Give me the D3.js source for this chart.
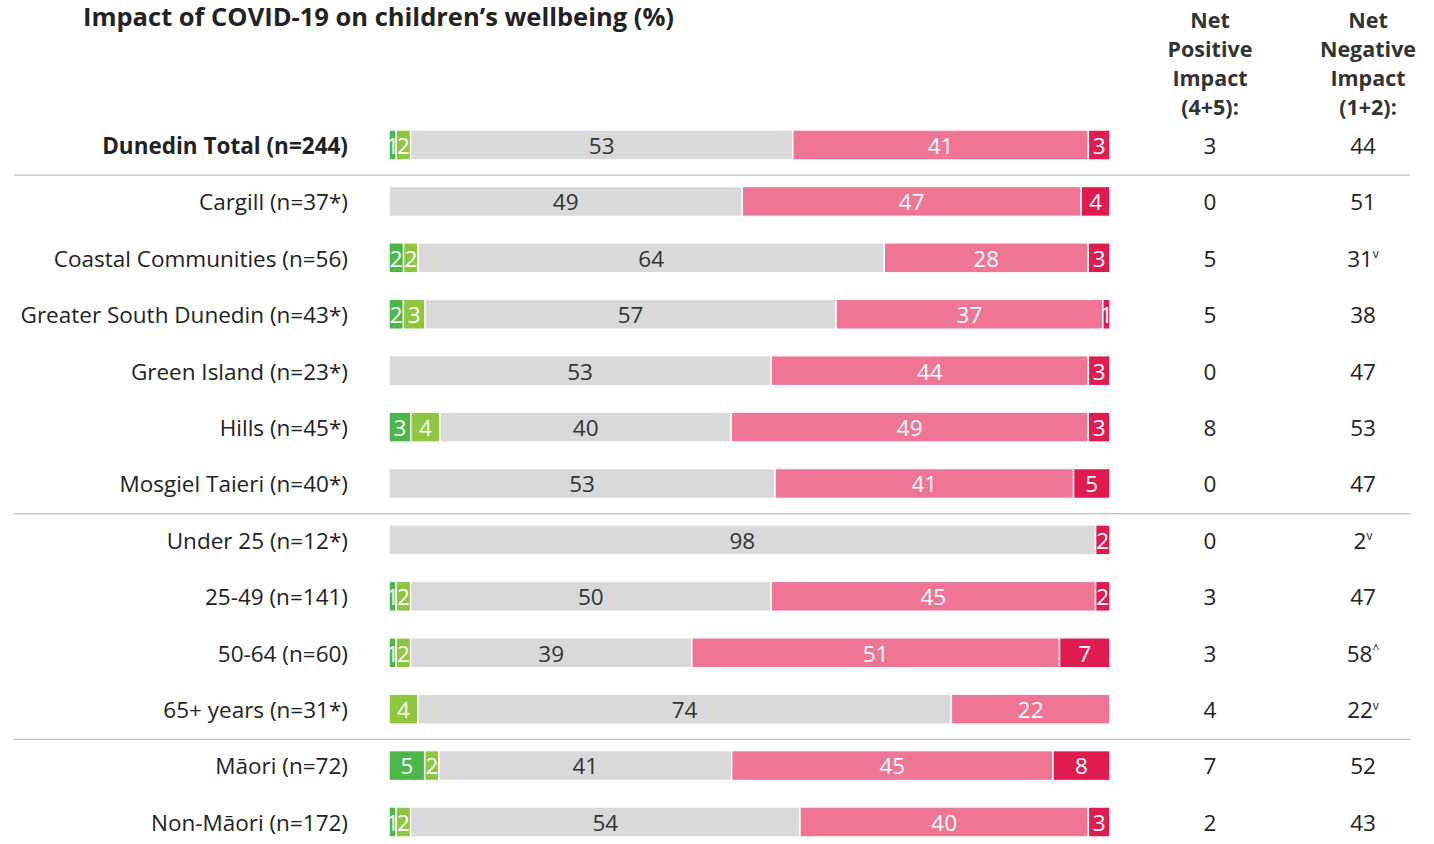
<!DOCTYPE html>
<html>
<head>
<meta charset="utf-8">
<script src="https://cdn.jsdelivr.net/npm/d3@7"></script>
<style>
  html, body { margin: 0; padding: 0; background: #fff; }
  svg { display: block; font-family: "Open Sans", "Lato", sans-serif; }
</style>
</head>
<body>
<svg id="chart" width="1434" height="844"></svg>
<script>
// Row labels, top to bottom
const categories = [
  "Dunedin Total (n=244)",
  "Cargill (n=37*)",
  "Coastal Communities (n=56)",
  "Greater South Dunedin (n=43*)",
  "Green Island (n=23*)",
  "Hills (n=45*)",
  "Mosgiel Taieri  (n=40*)",
  "Under 25 (n=12*)",
  "25-49 (n=141)",
  "50-64 (n=60)",
  "65+ years (n=31*)",
  "Māori (n=72)",
  "Non-Māori (n=172)"
];

// Response shares (%) for each scale point, 5 = very positive ... 1 = very negative
const veryPositive  = [1, 0, 2, 2, 0, 3, 0, 0, 1, 1, 0, 5, 1];
const positive      = [2, 0, 2, 3, 0, 4, 0, 0, 2, 2, 4, 2, 2];
const noImpact      = [53, 49, 64, 57, 53, 40, 53, 98, 50, 39, 74, 41, 54];
const negative      = [41, 47, 28, 37, 44, 49, 41, 0, 45, 51, 22, 45, 40];
const veryNegative  = [3, 4, 3, 1, 3, 3, 5, 2, 2, 7, 0, 8, 3];

// Summary columns
const netPositive = [3, 0, 5, 5, 0, 8, 0, 0, 3, 3, 4, 7, 2];
const netNegative = [44, 51, 31, 38, 47, 53, 47, 2, 47, 58, 22, 52, 43];
const netNegativeMark = ["", "", "v", "", "", "", "", "v", "", "^", "v", "", ""];

const seriesValues = [veryPositive, positive, noImpact, negative, veryNegative];
const seriesColors = ["#4cb748", "#8dc63f", "#d9d9d9", "#f07595", "#e01b4f"];
const labelColors = ["#ffffff", "#ffffff", "#333333", "#ffffff", "#ffffff"];

const boldRows = new Set([0]);
const separatorsAfter = [0, 6, 10];

const svg = d3.select("#chart");

const x = d3.scaleLinear().domain([0, 100]).range([389, 1110]);
const y = d3.scalePoint().domain(d3.range(categories.length)).range([145, 822]);
const barH = 30;
const fs = 22.5;

// Title
svg.append("text")
  .attr("x", 83).attr("y", 26)
  .attr("font-size", 25.5).attr("font-weight", 700).attr("fill", "#222")
  .text("Impact of COVID-19 on children’s wellbeing (%)");

// Column headers
const headers = [
  { cx: 1210, lines: ["Net", "Positive", "Impact", "(4+5):"] },
  { cx: 1368, lines: ["Net", "Negative", "Impact", "(1+2):"] }
];
headers.forEach(h => {
  const t = svg.append("text")
    .attr("text-anchor", "middle")
    .attr("font-size", 21.5).attr("font-weight", 700).attr("fill", "#333");
  h.lines.forEach((ln, i) => {
    t.append("tspan").attr("x", h.cx).attr("y", 28 + i * 29).text(ln);
  });
});

// Group separators
separatorsAfter.forEach(i => {
  const yy = (y(i) + y(i + 1)) / 2 + 2;
  svg.append("line")
    .attr("x1", 14).attr("x2", 1410)
    .attr("y1", yy).attr("y2", yy)
    .attr("stroke", "#bfbfbf").attr("stroke-width", 1.3);
});

// Build stacked segments per row
const rows = categories.map((name, r) => {
  const vals = seriesValues.map(s => s[r]);
  const total = d3.sum(vals);
  let cum = 0;
  const segs = vals.map((v, k) => {
    const s = { k, v, x0: cum / total * 100, x1: (cum + v) / total * 100 };
    cum += v;
    return s;
  });
  return { name, r, segs };
});

const rowG = svg.selectAll("g.row").data(rows).join("g").attr("class", "row");

// Row labels
rowG.append("text")
  .attr("x", 348).attr("y", d => y(d.r) + 1)
  .attr("dy", "0.35em")
  .attr("text-anchor", "end")
  .attr("font-size", fs)
  .attr("font-weight", d => boldRows.has(d.r) ? 700 : 400)
  .attr("fill", "#222")
  .text(d => d.name);

// Bar segments
rowG.selectAll("rect.seg")
  .data(d => d.segs.filter(s => s.v > 0).map(s => ({ ...s, r: d.r })))
  .join("rect")
  .attr("class", "seg")
  .attr("x", s => x(s.x0))
  .attr("width", s => x(s.x1) - x(s.x0))
  .attr("y", s => y(s.r) - barH / 2)
  .attr("height", barH)
  .attr("fill", s => seriesColors[s.k])
  .attr("stroke", "#fff").attr("stroke-width", 1.5);

// Segment value labels
rowG.selectAll("text.val")
  .data(d => d.segs.filter(s => s.v > 0).map(s => ({ ...s, r: d.r })))
  .join("text")
  .attr("class", "val")
  .attr("x", s => (x(s.x0) + x(s.x1)) / 2)
  .attr("y", s => y(s.r) + 1)
  .attr("dy", "0.35em")
  .attr("text-anchor", "middle")
  .attr("font-size", fs)
  .attr("fill", s => labelColors[s.k])
  .text(s => s.v);

// Net positive column
rowG.append("text")
  .attr("x", 1210).attr("y", d => y(d.r) + 1)
  .attr("dy", "0.35em").attr("text-anchor", "middle")
  .attr("font-size", fs).attr("fill", "#222")
  .text(d => netPositive[d.r]);

// Net negative column with significance marks
const neg = rowG.append("text")
  .attr("x", 1363).attr("y", d => y(d.r) + 1)
  .attr("dy", "0.35em").attr("text-anchor", "middle")
  .attr("font-size", fs).attr("fill", "#222");
neg.append("tspan").text(d => netNegative[d.r]);
neg.append("tspan")
  .attr("font-size", 12).attr("dy", "-0.7em")
  .text(d => netNegativeMark[d.r]);
</script>
</body>
</html>
